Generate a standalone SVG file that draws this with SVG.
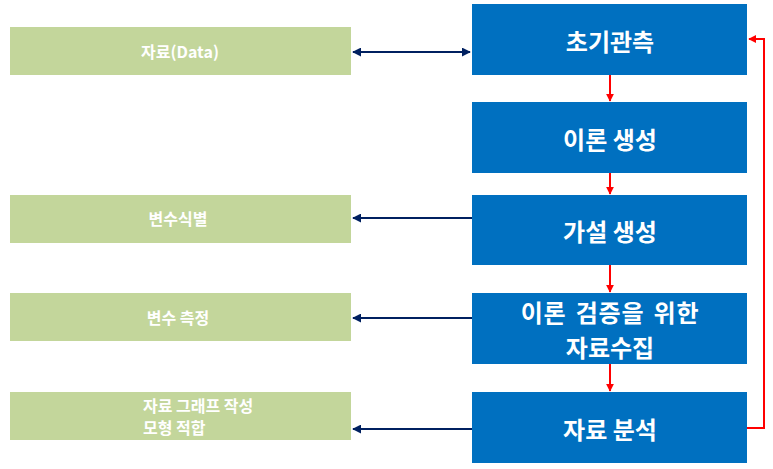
<svg xmlns="http://www.w3.org/2000/svg" width="773" height="469" viewBox="0 0 773 469">
<style>
.blue{fill:#0070C0;}
.green{fill:#C3D69B;}
.bt{fill:#fff;font-family:"Noto Sans CJK KR","Liberation Sans",sans-serif;font-weight:bold;font-size:24px;text-anchor:middle;dominant-baseline:central;}
.gt{fill:#fff;font-family:"Noto Sans CJK KR","Liberation Sans",sans-serif;font-weight:bold;font-size:16px;dominant-baseline:central;}
.nv{stroke:#002060;stroke-width:2;fill:none;}
.rd{stroke:#FF0000;stroke-width:2;fill:none;}
</style>
<defs>
<marker id="an" viewBox="0 0 10 10" refX="9" refY="5" markerWidth="4.5" markerHeight="4.5" orient="auto-start-reverse" markerUnits="strokeWidth"><path d="M0,0 L10,5 L0,10 z" fill="#002060"/></marker>
<marker id="ar" viewBox="0 0 10 10" refX="9" refY="5" markerWidth="4" markerHeight="4" orient="auto" markerUnits="strokeWidth"><path d="M0,0 L10,5 L0,10 z" fill="#FF0000"/></marker>
</defs>
<g id="n1"><rect class="blue" x="472" y="4" width="275" height="71"/><text class="bt" x="610" y="40">초기관측</text></g>
<g id="n2"><rect class="blue" x="472" y="102" width="275" height="71"/><text class="bt" x="610" y="138">이론 생성</text></g>
<g id="n3"><rect class="blue" x="472" y="195" width="275" height="70"/><text class="bt" x="610" y="230">가설 생성</text></g>
<g id="n4"><rect class="blue" x="472" y="293" width="275" height="71"/><text class="bt" x="610" y="311" word-spacing="3" letter-spacing="0.8">이론 검증을 위한</text><text class="bt" x="610" y="346">자료수집</text></g>
<g id="n5"><rect class="blue" x="472" y="392" width="275" height="71"/><text class="bt" x="610" y="428">자료 분석</text></g>
<g id="g1"><rect class="green" x="10" y="27" width="341" height="48"/><text class="gt" x="180" y="51" text-anchor="middle">자료(Data)</text></g>
<g id="g2"><rect class="green" x="10" y="195" width="341" height="48"/><text class="gt" x="178" y="218" text-anchor="middle">변수식별</text></g>
<g id="g3"><rect class="green" x="10" y="293" width="341" height="48"/><text class="gt" x="178" y="317" text-anchor="middle">변수 측정</text></g>
<g id="g4"><rect class="green" x="10" y="392" width="341" height="48"/><text class="gt"><tspan x="143" y="405">자료 그래프 작성</tspan><tspan x="143" y="427">모형 적합</tspan></text></g>
<g id="connectors">
<line class="nv" x1="353" y1="52" x2="470" y2="52" marker-start="url(#an)" marker-end="url(#an)"/>
<line class="nv" x1="472" y1="218" x2="353" y2="218" marker-end="url(#an)"/>
<line class="nv" x1="472" y1="318" x2="353" y2="318" marker-end="url(#an)"/>
<line class="nv" x1="472" y1="429" x2="353" y2="429" marker-end="url(#an)"/>
<line class="rd" x1="610" y1="75" x2="610" y2="101" marker-end="url(#ar)"/>
<line class="rd" x1="610" y1="173" x2="610" y2="194" marker-end="url(#ar)"/>
<line class="rd" x1="610" y1="265" x2="610" y2="292" marker-end="url(#ar)"/>
<line class="rd" x1="610" y1="364" x2="610" y2="391" marker-end="url(#ar)"/>
<polyline class="rd" points="747,428 764,428 764,39 749,39" marker-end="url(#ar)"/>
</g>
</svg>
